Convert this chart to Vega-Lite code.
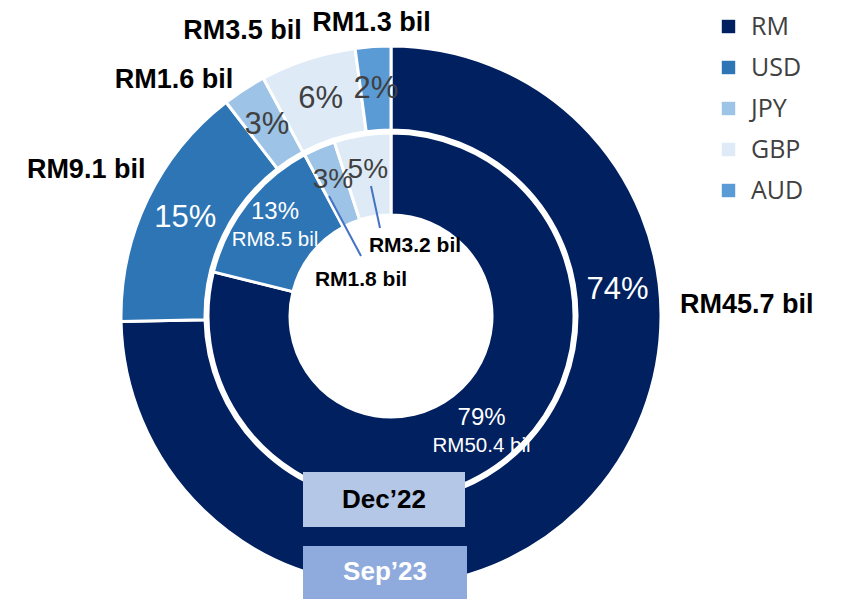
{
  "$schema": "https://vega.github.io/schema/vega-lite/v6.json",
  "width": 844,
  "height": 599,
  "autosize": "none",
  "padding": 0,
  "background": "white",
  "config": {
    "view": {"stroke": null},
    "font": "Liberation Sans",
    "legend": {
      "orient": "none",
      "legendX": 716,
      "legendY": 14,
      "symbolType": "square",
      "symbolSize": 180,
      "symbolStrokeWidth": 0,
      "labelFontSize": 25,
      "labelFont": "Open Sans",
      "labelColor": "#404040",
      "labelOffset": 10,
      "rowPadding": 15
    }
  },
  "datasets": {
    "shares": [
      {"period": "Sep’23", "cur": "RM", "idx": 1, "amt": 45.7, "pct": "74%", "bil": "RM45.7 bil"},
      {"period": "Sep’23", "cur": "USD", "idx": 2, "amt": 9.1, "pct": "15%", "bil": "RM9.1 bil"},
      {"period": "Sep’23", "cur": "JPY", "idx": 3, "amt": 1.6, "pct": "3%", "bil": "RM1.6 bil"},
      {"period": "Sep’23", "cur": "GBP", "idx": 4, "amt": 3.5, "pct": "6%", "bil": "RM3.5 bil"},
      {"period": "Sep’23", "cur": "AUD", "idx": 5, "amt": 1.3, "pct": "2%", "bil": "RM1.3 bil"},
      {"period": "Dec’22", "cur": "RM", "idx": 1, "amt": 50.4, "pct": "79%", "bil": "RM50.4 bil"},
      {"period": "Dec’22", "cur": "USD", "idx": 2, "amt": 8.5, "pct": "13%", "bil": "RM8.5 bil"},
      {"period": "Dec’22", "cur": "JPY", "idx": 3, "amt": 1.8, "pct": "3%", "bil": "RM1.8 bil"},
      {"period": "Dec’22", "cur": "GBP", "idx": 4, "amt": 3.2, "pct": "5%", "bil": "RM3.2 bil"}
    ],
    "boxes": [
      {"label": "Dec’22", "x": -88, "x2": 74, "y": -156, "y2": -211, "tx": -7, "ty": -184},
      {"label": "Sep’23", "x": -88, "x2": 76, "y": -230, "y2": -285, "tx": -6, "ty": -256}
    ],
    "holeLabels": [
      {"label": "RM3.2 bil", "x": 24, "y": 70},
      {"label": "RM1.8 bil", "x": -30, "y": 36}
    ],
    "leaders": [
      {"id": "GBP", "x": -20, "y": 130, "x2": -11, "y2": 88},
      {"id": "JPY", "x": -62, "y": 120, "x2": -30, "y2": 60}
    ]
  },
  "layer": [
    {
      "data": {"name": "shares"},
      "transform": [{"filter": "datum.period === 'Sep’23'"}],
      "encoding": {
        "x": {"datum": 0, "type": "quantitative", "scale": {"domain": [-391, 453], "nice": false, "zero": false}, "axis": null},
        "y": {"datum": 0, "type": "quantitative", "scale": {"domain": [-283, 316], "nice": false, "zero": false}, "axis": null},
        "theta": {"field": "amt", "type": "quantitative", "stack": true},
        "order": {"field": "idx", "type": "quantitative"},
        "detail": {"field": "cur", "type": "nominal"},
        "color": {
          "field": "cur", "type": "nominal", "title": null,
          "scale": {"domain": ["RM", "USD", "JPY", "GBP", "AUD"], "range": ["#002060", "#2E75B6", "#9DC3E6", "#DEEBF7", "#5B9BD5"]}
        }
      },
      "layer": [
        {"mark": {"type": "arc", "radius": 270, "radius2": 186, "stroke": "white", "strokeWidth": 3}},
        {
          "mark": {"type": "text", "radius": 228, "fontSize": 31, "baseline": "middle", "align": "center"},
          "encoding": {
            "text": {"condition": {"test": "datum.cur !== 'RM'", "field": "pct", "type": "nominal"}, "value": ""},
            "color": {"condition": {"test": "datum.cur === 'USD'", "value": "white"}, "value": "#404040"}
          }
        },
        {
          "mark": {"type": "text", "radius": 228, "thetaOffset": -0.888, "fontSize": 31, "baseline": "middle", "align": "center"},
          "encoding": {
            "text": {"condition": {"test": "datum.cur === 'RM'", "field": "pct", "type": "nominal"}, "value": ""},
            "color": {"value": "white"}
          }
        },
        {
          "mark": {"type": "text", "radius": 338, "fontSize": 27, "fontWeight": "bold", "baseline": "middle", "align": "center"},
          "encoding": {
            "text": {"condition": {"test": "datum.cur === 'USD'", "field": "bil", "type": "nominal"}, "value": ""},
            "color": {"value": "black"}
          }
        },
        {
          "mark": {"type": "text", "radius": 294, "fontSize": 27, "fontWeight": "bold", "baseline": "middle", "align": "center"},
          "encoding": {
            "text": {"condition": {"test": "datum.cur === 'AUD'", "field": "bil", "type": "nominal"}, "value": ""},
            "color": {"value": "black"}
          }
        },
        {
          "mark": {"type": "text", "radius": 321, "thetaOffset": -0.1676, "fontSize": 27, "fontWeight": "bold", "baseline": "middle", "align": "center"},
          "encoding": {
            "text": {"condition": {"test": "datum.cur === 'JPY' || datum.cur === 'GBP'", "field": "bil", "type": "nominal"}, "value": ""},
            "color": {"value": "black"}
          }
        },
        {
          "mark": {"type": "text", "radius": 356, "thetaOffset": -0.806, "fontSize": 27, "fontWeight": "bold", "baseline": "middle", "align": "center"},
          "encoding": {
            "text": {"condition": {"test": "datum.cur === 'RM'", "field": "bil", "type": "nominal"}, "value": ""},
            "color": {"value": "black"}
          }
        }
      ]
    },
    {
      "data": {"name": "shares"},
      "transform": [{"filter": "datum.period === 'Dec’22'"}],
      "encoding": {
        "x": {"datum": 0, "type": "quantitative", "scale": {"domain": [-391, 453], "nice": false, "zero": false}, "axis": null},
        "y": {"datum": 0, "type": "quantitative", "scale": {"domain": [-283, 316], "nice": false, "zero": false}, "axis": null},
        "theta": {"field": "amt", "type": "quantitative", "stack": true},
        "order": {"field": "idx", "type": "quantitative"},
        "detail": {"field": "cur", "type": "nominal"},
        "color": {
          "field": "cur", "type": "nominal", "title": null,
          "scale": {"domain": ["RM", "USD", "JPY", "GBP", "AUD"], "range": ["#002060", "#2E75B6", "#9DC3E6", "#DEEBF7", "#5B9BD5"]}
        }
      },
      "layer": [
        {"mark": {"type": "arc", "radius": 183, "radius2": 101, "stroke": "white", "strokeWidth": 3}},
        {
          "mark": {"type": "text", "radius": 148, "fontSize": 28, "baseline": "middle", "align": "center"},
          "encoding": {
            "text": {"condition": {"test": "datum.cur === 'JPY' || datum.cur === 'GBP'", "field": "pct", "type": "nominal"}, "value": ""},
            "color": {"value": "#404040"}
          }
        },
        {
          "mark": {"type": "text", "radius": 147, "dy": -14, "fontSize": 24, "baseline": "middle", "align": "center"},
          "encoding": {
            "text": {"condition": {"test": "datum.cur === 'RM' || datum.cur === 'USD'", "field": "pct", "type": "nominal"}, "value": ""},
            "color": {"value": "white"}
          }
        },
        {
          "mark": {"type": "text", "radius": 147, "dy": 14.5, "fontSize": 20.5, "baseline": "middle", "align": "center"},
          "encoding": {
            "text": {"condition": {"test": "datum.cur === 'RM' || datum.cur === 'USD'", "field": "bil", "type": "nominal"}, "value": ""},
            "color": {"value": "white"}
          }
        }
      ]
    },
    {
      "data": {"name": "leaders"},
      "mark": {"type": "rule", "color": "#4472C4", "strokeWidth": 2},
      "encoding": {
        "x": {"field": "x", "type": "quantitative", "scale": {"domain": [-391, 453], "nice": false, "zero": false}, "axis": null},
        "y": {"field": "y", "type": "quantitative", "scale": {"domain": [-283, 316], "nice": false, "zero": false}, "axis": null},
        "x2": {"field": "x2"},
        "y2": {"field": "y2"}
      }
    },
    {
      "data": {"name": "holeLabels"},
      "mark": {"type": "text", "fontSize": 21, "fontWeight": "bold", "color": "black", "baseline": "middle", "align": "center"},
      "encoding": {
        "x": {"field": "x", "type": "quantitative", "scale": {"domain": [-391, 453], "nice": false, "zero": false}, "axis": null},
        "y": {"field": "y", "type": "quantitative", "scale": {"domain": [-283, 316], "nice": false, "zero": false}, "axis": null},
        "text": {"field": "label", "type": "nominal"}
      }
    },
    {
      "data": {"name": "boxes"},
      "layer": [
        {
          "mark": {"type": "rect"},
          "encoding": {
            "x": {"field": "x", "type": "quantitative", "scale": {"domain": [-391, 453], "nice": false, "zero": false}, "axis": null},
            "y": {"field": "y", "type": "quantitative", "scale": {"domain": [-283, 316], "nice": false, "zero": false}, "axis": null},
            "x2": {"field": "x2"},
            "y2": {"field": "y2"},
            "fill": {"condition": {"test": "datum.label === 'Dec’22'", "value": "#B4C7E7"}, "value": "#8FAADC"}
          }
        },
        {
          "mark": {"type": "text", "fontSize": 26, "fontWeight": "bold", "baseline": "middle", "align": "center"},
          "encoding": {
            "x": {"field": "tx", "type": "quantitative", "scale": {"domain": [-391, 453], "nice": false, "zero": false}, "axis": null},
            "y": {"field": "ty", "type": "quantitative", "scale": {"domain": [-283, 316], "nice": false, "zero": false}, "axis": null},
            "text": {"field": "label", "type": "nominal"},
            "color": {"condition": {"test": "datum.label === 'Dec’22'", "value": "black"}, "value": "white"}
          }
        }
      ]
    }
  ],
  "resolve": {"scale": {"theta": "independent"}}
}
